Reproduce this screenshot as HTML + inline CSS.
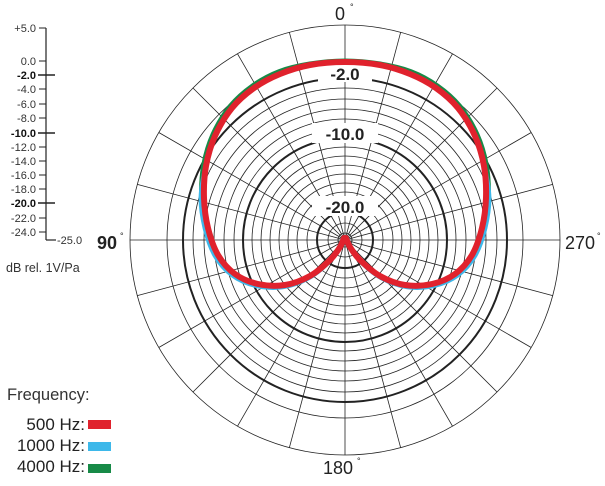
<!DOCTYPE html>
<html><head><meta charset="utf-8"><style>
html,body{margin:0;padding:0;background:#fff;}
svg{display:block;font-family:"Liberation Sans",sans-serif;}
</style></head><body>
<svg width="605" height="486" viewBox="0 0 605 486" xmlns="http://www.w3.org/2000/svg">
<g id="grid" fill="none" stroke="#222" stroke-width="0.8"></g>
<g id="labels" font-weight="bold" font-size="17" fill="#222" text-anchor="middle">
  <rect x="318" y="62" width="54" height="20" fill="#fff"/>
  <text x="345" y="80">-2.0</text>
  <rect x="312" y="123" width="66" height="20" fill="#fff"/>
  <text x="345" y="140">-10.0</text>
  <rect x="312" y="196" width="66" height="20" fill="#fff"/>
  <text x="345" y="213">-20.0</text>
</g>
<g id="curves" fill="none" stroke-linejoin="round" stroke-linecap="round"></g>
<g font-size="18" fill="#222">
  <text x="340" y="20" text-anchor="middle">0</text><text x="350" y="10" font-size="9">°</text>
  <text x="107" y="249" text-anchor="middle" font-weight="bold">90</text><text x="120" y="239" font-size="9">°</text>
  <text x="580" y="249" text-anchor="middle">270</text><text x="597" y="239" font-size="9">°</text>
  <text x="338" y="474" text-anchor="middle">180</text><text x="357" y="464" font-size="9">°</text>
</g>
<g stroke="#222" stroke-width="1.2">
  <line x1="46" y1="28" x2="46" y2="240"/>
  <line x1="46" y1="240" x2="56" y2="240"/>
</g>
<g id="axis" font-size="11" fill="#333" text-anchor="end"></g>
<text x="57" y="244" font-size="11" fill="#333">-25.0</text>
<text x="6" y="272" font-size="12.5" fill="#333">dB rel. 1V/Pa</text>
<text x="7" y="400" font-size="16.5" fill="#333">Frequency:</text>
<g font-size="17" fill="#222" text-anchor="end">
  <text x="85" y="430">500 Hz:</text>
  <text x="85" y="451">1000 Hz:</text>
  <text x="85" y="472">4000 Hz:</text>
</g>
<rect x="88" y="420" width="23" height="9" fill="#e0222d"/>
<rect x="88" y="442" width="23" height="9" fill="#3db8ea"/>
<rect x="88" y="464" width="23" height="9" fill="#178a47"/>
</svg>
<script>
var NS="http://www.w3.org/2000/svg",cx=345,cy=240,R=215;
function el(p,t,a){var e=document.createElementNS(NS,t);for(var k in a)e.setAttribute(k,a[k]);p.appendChild(e);return e;}
var g=document.getElementById('grid');
var rings=[7,17,38,48,57,66,75,84,93,111,121,131,141,152,178,215];
rings.forEach(function(r){el(g,'circle',{cx:cx,cy:cy,r:r});});
[28,102,162].forEach(function(r){el(g,'circle',{cx:cx,cy:cy,r:r,'stroke-width':2});});
for(var a=0;a<360;a+=15){var t=a*Math.PI/180;
 el(g,'line',{x1:cx,y1:cy,x2:cx+R*Math.sin(t),y2:cy-R*Math.cos(t)});}
var svg=document.querySelector('svg');
var ax=document.getElementById('axis');
var labs=[["+5.0",28,0],["0.0",61,0],["-2.0",75,1],["-4.0",89,0],["-6.0",104,0],["-8.0",118,0],["-10.0",133,1],["-12.0",147,0],["-14.0",161,0],["-16.0",175,0],["-18.0",189,0],["-20.0",203,1],["-22.0",218,0],["-24.0",232,0]];
labs.forEach(function(l){var t=el(ax,'text',{x:36,y:l[1]+4});t.textContent=l[0];if(l[2]){t.setAttribute('font-weight','bold');t.setAttribute('fill','#111');}
 el(svg,'line',{x1:l[2]?38:39,y1:l[1],x2:l[2]?55:46,y2:l[1],stroke:'#222','stroke-width':l[2]?1.6:1});});
var base=[[345,62],[310,65],[280,74],[254,88],[232,108],[215,136],[206,166],[204,198],[208,228],[218,255],[235,274],[258,284],[285,285],[310,276],[330,260],[340,247],[344,238]];
function path(pts){var d="M"+pts[0][0]+","+pts[0][1];
 for(var i=0;i<pts.length-1;i++){var p0=pts[Math.max(0,i-1)],p1=pts[i],p2=pts[i+1],p3=pts[Math.min(pts.length-1,i+2)];
 d+=" C"+(p1[0]+(p2[0]-p0[0])/6)+","+(p1[1]+(p2[1]-p0[1])/6)+" "+(p2[0]-(p3[0]-p1[0])/6)+","+(p2[1]-(p3[1]-p1[1])/6)+" "+p2[0]+","+p2[1];}
 return d;}
function offset(f){return base.map(function(p,i){var dx=p[0]-cx,dy=p[1]-cy,r=Math.sqrt(dx*dx+dy*dy)||1,o=f(i);return[p[0]+dx/r*o,p[1]+dy/r*o];});}
function loop(pts){var right=pts.map(function(p){return[690-p[0],p[1]];}).reverse();return right.concat(pts.slice(1));}
var cv=document.getElementById('curves');
var green=offset(function(i){return (i>=2&&i<=8)?2.5:(i<2?1:0);});
var blue=offset(function(i){return (i>=7&&i<=14)?3:0;});
el(cv,'path',{d:path(loop(green)),stroke:'#178a47','stroke-width':5});
el(cv,'path',{d:path(loop(blue)),stroke:'#3db8ea','stroke-width':5});
el(cv,'path',{d:path(loop(base)),stroke:'#e0222d','stroke-width':6});
</script>
</body></html>
